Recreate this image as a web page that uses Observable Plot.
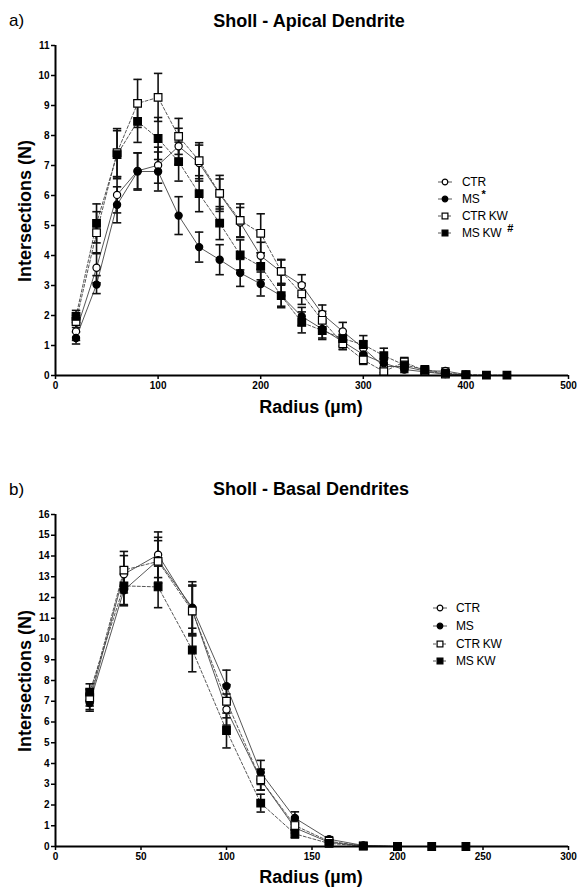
<!DOCTYPE html>
<html>
<head>
<meta charset="utf-8">
<script src="https://cdn.jsdelivr.net/npm/d3@7"></script>
<script src="https://cdn.jsdelivr.net/npm/@observablehq/plot@0.6"></script>
<style>
  html, body { margin: 0; padding: 0; background: #fff; }
  body { width: 577px; height: 890px; position: relative; overflow: hidden; font-family: "Liberation Sans", Arial, sans-serif; color: #000; }
  .abs { position: absolute; white-space: nowrap; }
  .panel { position: absolute; font-size: 17px; transform: translate(0, -50%); }
  .title { position: absolute; font-weight: bold; font-size: 18px; transform: translate(-50%, -50%); }
  .ylab { position: absolute; font-weight: bold; font-size: 18px; transform: translate(-50%, -50%) rotate(-90deg); }
  .xlab { position: absolute; font-weight: bold; font-size: 18px; transform: translate(-50%, -50%); }
</style>
</head>
<body>
<div class="panel abs" style="left:9px; top:21px;">a)</div>
<div class="title abs" style="left:309px; top:21px;">Sholl - Apical Dendrite</div>
<div class="ylab abs" style="left:25px; top:211px;">Intersections (N)</div>
<div class="xlab abs" style="left:311px; top:407px;">Radius (µm)</div>
<div id="chartA" class="abs" style="left:0; top:0;"></div>
<div id="legendA" class="abs" style="left:0; top:0;"></div>

<div class="panel abs" style="left:9px; top:490px;">b)</div>
<div class="title abs" style="left:311px; top:489px;">Sholl - Basal Dendrites</div>
<div class="ylab abs" style="left:25px; top:681px;">Intersections (N)</div>
<div class="xlab abs" style="left:311px; top:877px;">Radius (µm)</div>
<div id="chartB" class="abs" style="left:0; top:450px;"></div>
<div id="legendB" class="abs" style="left:0; top:0;"></div>

<script>
// ---------- Apical dendrite data ----------
const radiiApical = [20,40,60,80,100,120,140,160,180,200,220,240,260,280,300,320,340,360,380,400,420,440];
const ctrApical   = [1.47,3.59,6.02,6.82,7.01,7.64,7.08,6.05,5.10,3.99,3.45,3.01,2.05,1.47,0.91,0.30,0.30,0.15,0.15,0.03];
const ctrApicalSem= [0.30,0.50,0.60,0.60,0.60,0.60,0.60,0.50,0.50,0.45,0.40,0.35,0.30,0.30,0.25,0.20,0.15,0.10,0.10,0.05];
const msApical    = [1.25,3.03,5.69,6.80,6.80,5.33,4.28,3.86,3.42,3.05,2.66,1.97,1.55,1.13,0.70,0.41,0.20,0.12,0.05,0.02];
const msApicalSem = [0.20,0.30,0.60,0.62,0.65,0.63,0.50,0.50,0.45,0.40,0.35,0.30,0.30,0.25,0.20,0.15,0.10,0.08,0.05,0.02];
const ctrKwApical = [1.80,4.76,7.43,9.07,9.27,7.97,7.16,6.07,5.17,4.74,3.47,2.72,1.84,1.06,0.52,0.13,0.45,0.15,0.05,0.02];
const ctrKwApicalSem=[0.20,0.70,0.80,0.80,0.80,0.60,0.60,0.60,0.55,0.65,0.40,0.35,0.30,0.20,0.15,0.10,0.15,0.08,0.05,0.02];
const msKwApical  = [1.97,5.07,7.36,8.47,7.90,7.13,6.06,5.08,4.02,3.64,2.66,1.77,1.50,1.23,1.03,0.66,0.35,0.20,0.08,0.03,0.01,0.01];
const msKwApicalSem=[0.20,0.65,0.80,0.70,0.70,0.65,0.60,0.55,0.50,0.45,0.40,0.35,0.30,0.25,0.30,0.25,0.15,0.10,0.05,0.03,0.02,0.02];

// ---------- Basal dendrite data ----------
const radiiBasal = [20,40,60,80,100,120,140,160,180,200,220,240];
const ctrBasal    = [7.00,13.12,14.06,11.40,6.60,3.22,0.90,0.20,0.03,0.00];
const ctrBasalSem = [0.40,0.90,1.10,1.20,0.75,0.50,0.25,0.10,0.03,0.00];
const msBasal     = [6.92,12.35,13.80,11.51,7.73,3.57,1.37,0.35,0.05,0.00];
const msBasalSem  = [0.40,0.75,1.10,1.25,0.77,0.58,0.30,0.12,0.03,0.00];
const ctrKwBasal  = [7.17,13.32,13.74,11.35,7.00,3.22,1.01,0.25,0.03,0.00];
const ctrKwBasalSem=[0.40,0.90,1.00,1.20,0.80,0.50,0.25,0.10,0.03,0.00];
const msKwBasal   = [7.44,12.56,12.51,9.47,5.59,2.09,0.61,0.15,0.02,0.00,0.00,0.00];
const msKwBasalSem= [0.40,0.90,1.00,1.05,0.84,0.43,0.20,0.08,0.02,0.00,0.00,0.00];

// ---------- ticks ----------
const apicalXTicks = [0,100,200,300,400,500];
const apicalYTicks = [0,1,2,3,4,5,6,7,8,9,10,11];
const basalXTicks  = [0,50,100,150,200,250,300];
const basalYTicks  = [0,1,2,3,4,5,6,7,8,9,10,11,12,13,14,15,16];

const seriesNames = ["CTR","MS","CTR KW","MS KW"];

function rows(radii, vals, sems, name) {
  return vals.map((v, i) => ({r: radii[i], y: v, e: sems[i], s: name}));
}

const styles = {
  "CTR":    {symbol: "circle", fill: "white", dash: null, r: 3.6},
  "MS":     {symbol: "circle", fill: "black", dash: null, r: 3.6},
  "CTR KW": {symbol: "square", fill: "white", dash: "3,2", r: 4.3},
  "MS KW":  {symbol: "square", fill: "black", dash: "3,2", r: 4.3}
};

const cap = { draw(ctx) { ctx.moveTo(-4.2, 0); ctx.lineTo(4.2, 0); } };

function seriesMarks(data) {
  const marks = [];
  for (const name of seriesNames) {
    const d = data.filter(p => p.s === name);
    marks.push(Plot.line(d, {x: "r", y: "y", stroke: "#444", strokeWidth: 0.9, strokeDasharray: styles[name].dash}));
  }
  for (const name of seriesNames) {
    const d = data.filter(p => p.s === name && p.e > 0);
    marks.push(Plot.ruleX(d, {x: "r", y1: p => p.y - p.e, y2: p => p.y + p.e, stroke: "#111", strokeWidth: 1.6}));
    marks.push(Plot.dot(d, {x: "r", y: p => p.y + p.e, symbol: cap, stroke: "#111", strokeWidth: 1.6, r: 4}));
    marks.push(Plot.dot(d, {x: "r", y: p => p.y - p.e, symbol: cap, stroke: "#111", strokeWidth: 1.6, r: 4}));
  }
  for (const name of seriesNames) {
    const d = data.filter(p => p.s === name);
    const st = styles[name];
    marks.push(Plot.dot(d, {x: "r", y: "y", symbol: st.symbol, r: st.r, fill: st.fill, stroke: "black", strokeWidth: 1.2}));
  }
  return marks;
}

function makeChart(data, opts) {
  return Plot.plot({
    width: 577,
    height: opts.height,
    marginTop: opts.mt,
    marginBottom: opts.mb,
    marginLeft: 55,
    marginRight: 9,
    style: {fontFamily: "'Liberation Sans', Arial, sans-serif", fontSize: "10px", fontWeight: "bold", overflow: "visible", background: "transparent"},
    x: {domain: opts.xd, label: null},
    y: {domain: opts.yd, label: null},
    marks: [
      Plot.axisX({ticks: opts.xt, tickSize: 4, tickPadding: 2, strokeWidth: 1.5, label: null}),
      Plot.axisY({ticks: opts.yt, tickSize: 4, tickPadding: 2, strokeWidth: 1.5, label: null}),
      ...seriesMarks(data),
      Plot.ruleX([opts.xd[0]], {stroke: "black", strokeWidth: 2}),
      Plot.ruleY([opts.yd[0]], {stroke: "black", strokeWidth: 2})
    ]
  });
}

const apicalData = [
  ...rows(radiiApical, ctrApical, ctrApicalSem, "CTR"),
  ...rows(radiiApical, msApical, msApicalSem, "MS"),
  ...rows(radiiApical, ctrKwApical, ctrKwApicalSem, "CTR KW"),
  ...rows(radiiApical, msKwApical, msKwApicalSem, "MS KW")
];
const basalData = [
  ...rows(radiiBasal, ctrBasal, ctrBasalSem, "CTR"),
  ...rows(radiiBasal, msBasal, msBasalSem, "MS"),
  ...rows(radiiBasal, ctrKwBasal, ctrKwBasalSem, "CTR KW"),
  ...rows(radiiBasal, msKwBasal, msKwBasalSem, "MS KW")
];

document.getElementById("chartA").appendChild(makeChart(apicalData, {
  height: 430, mt: 45, mb: 55, xd: [0, 500], yd: [0, 11], xt: apicalXTicks, yt: apicalYTicks
}));
document.getElementById("chartB").appendChild(makeChart(basalData, {
  height: 440, mt: 64, mb: 44, xd: [0, 300], yd: [0, 16], xt: basalXTicks, yt: basalYTicks
}));

// ---------- legends ----------
function legend(containerId, x0, textX, ys, labels) {
  const svg = d3.select("#" + containerId).append("svg")
    .attr("width", 577).attr("height", 890)
    .style("position", "absolute").style("left", 0).style("top", 0).style("overflow", "visible");
  seriesNames.forEach((name, i) => {
    const st = styles[name];
    const g = svg.append("g").attr("transform", `translate(${x0},${ys[i]})`);
    g.append("line").attr("x1", -7).attr("x2", 7).attr("stroke", "#444").attr("stroke-width", 0.9)
      .attr("stroke-dasharray", st.dash);
    if (st.symbol === "circle") {
      g.append("circle").attr("r", 2.8).attr("fill", st.fill).attr("stroke", "black").attr("stroke-width", 1.2);
    } else {
      g.append("rect").attr("x", -2.9).attr("y", -2.9).attr("width", 5.8).attr("height", 5.8)
        .attr("fill", st.fill).attr("stroke", "black").attr("stroke-width", 1.2);
    }
    const t = svg.append("text").attr("x", textX).attr("y", ys[i]).attr("dy", "0.36em")
      .style("font-family", "'Liberation Sans', Arial, sans-serif").style("font-size", "12px")
      .style("letter-spacing", "-0.3px")
      .text(labels[i].text);
    if (labels[i].sup) {
      t.append("tspan").attr("dx", labels[i].supDx).attr("dy", "-0.45em")
        .style("font-size", "11px").style("font-weight", "bold").text(labels[i].sup);
    }
  });
}

legend("legendA", 445, 462, [182, 199, 216, 233], [
  {text: "CTR"}, {text: "MS", sup: "*", supDx: 2}, {text: "CTR KW"}, {text: "MS KW", sup: "#", supDx: 6}
]);
legend("legendB", 440, 456, [608, 626, 644, 661], [
  {text: "CTR"}, {text: "MS"}, {text: "CTR KW"}, {text: "MS KW"}
]);
</script>
</body>
</html>
